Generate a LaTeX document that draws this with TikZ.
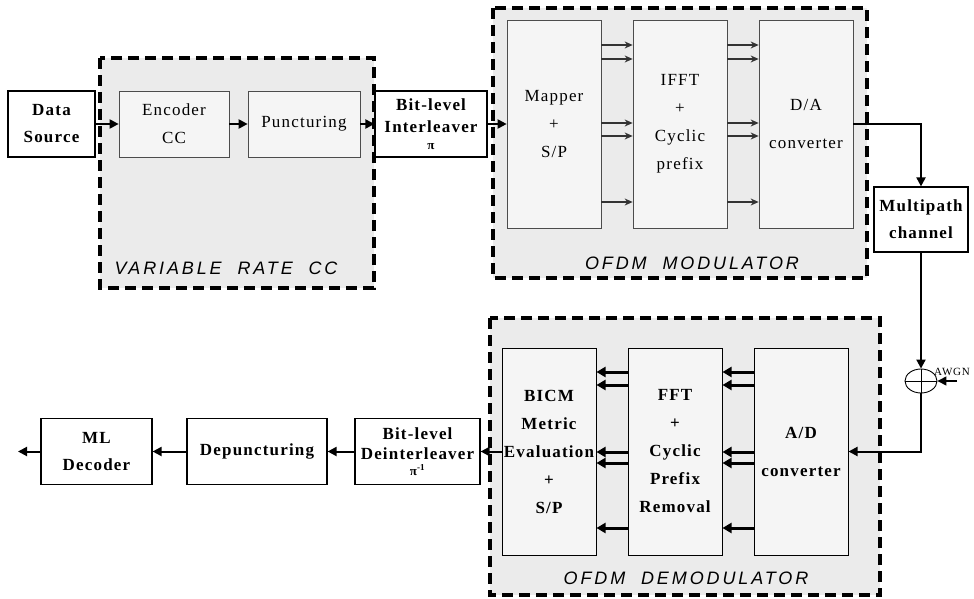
\documentclass[tikz,border=0pt]{standalone}
\usepackage{fontspec}
\setmainfont{Liberation Serif}[LetterSpace=7]
\newfontfamily\labfont{Liberation Sans}[LetterSpace=16]
\newfontfamily\pifont{Liberation Serif}
\usetikzlibrary{arrows.meta,calc,shapes.geometric}

\tikzset{
 blk/.style={draw, line width=1.2pt, fill=white, align=center, font=\fontsize{17}{27}\selectfont\bfseries, inner sep=0pt},
 inblk/.style={draw=black!70, line width=0.7pt, fill=black!4, align=center, font=\fontsize{17}{28}\selectfont, inner sep=0pt},
 demblk/.style={draw, line width=1pt, fill=black!4, align=center, font=\fontsize{17}{28}\selectfont\bfseries, inner sep=0pt},
 grp/.style={draw, line width=3.5pt, dash pattern=on 11pt off 6pt, fill=black!8},
 grplab/.style={font=\labfont\itshape\fontsize{18}{20}\selectfont, inner sep=0pt},
 conn/.style={line width=2pt, -{Triangle[length=9pt,width=9pt]}},
 parr/.style={line width=1.4pt, black!80, -{Stealth[length=8pt,width=7pt]}},
 dparr/.style={line width=3pt, -{Triangle[length=9pt,width=10pt]}},
}

\begin{document}
\begin{tikzpicture}[x=1pt,y=-1pt]
\useasboundingbox (0,0) rectangle (974,599);

% group frames
\draw[grp] (100,58) rectangle (374,288);
\draw[grp] (493,8) rectangle (867,278);
\draw[grp] (490,318) rectangle (880,595);

% top row
\node[blk, minimum width=87pt, minimum height=66pt] (ds) at (51.5,124) {Data\\Source};
\node[inblk, minimum width=110pt, minimum height=66pt] (enc) at (174,124) {Encoder\\CC};
\node[inblk, minimum width=112pt, minimum height=66pt] (pun) at (304,124) {Puncturing};
\node[blk, minimum width=112pt, minimum height=66pt, font=\fontsize{17}{22}\selectfont\bfseries] (il) at (431,124) {Bit-level\\Interleaver\\[-5pt]{\pifont\fontsize{13}{13}\selectfont\bfseries π}};

\node[inblk, minimum width=94pt, minimum height=208pt] (map) at (554,124) {Mapper\\+\\S/P};
\node[inblk, minimum width=94pt, minimum height=208pt] (ifft) at (680,124) {IFFT\\+\\Cyclic\\prefix};
\node[inblk, minimum width=94pt, minimum height=208pt] (da) at (806,124) {D/A\\[10pt]converter};

\node[blk, minimum width=94pt, minimum height=65pt] (mp) at (921,219.5) {Multipath\\channel};

\node[draw, ellipse, line width=0.9pt, minimum width=32pt, minimum height=24pt, inner sep=0pt] (sum) at (921,381) {};
\draw[line width=0.9pt] (sum.north) -- (sum.south) (sum.west) -- (sum.east);
\node[anchor=west, font=\fontsize{11}{11}\selectfont, inner sep=0pt] (awl) at (934,372) {AWGN};
\coordinate (nin) at (957,381);

% demodulator
\node[demblk, minimum width=94pt, minimum height=207pt] (bicm) at (549,451.5) {BICM\\Metric\\Evaluation\\+\\S/P};
\node[demblk, minimum width=94pt, minimum height=207pt] (fft) at (675,451.5) {FFT\\+\\Cyclic\\Prefix\\Removal};
\node[demblk, minimum width=94pt, minimum height=207pt] (ad) at (801,451.5) {A/D\\[10pt]converter};

% bottom row
\node[blk, minimum width=125pt, minimum height=66pt, font=\fontsize{17}{20}\selectfont\bfseries] (dil) at (417.5,451.5) {Bit-level\\Deinterleaver\\[-4pt]{\pifont\fontsize{13}{13}\selectfont\bfseries π\textsuperscript{-1}}};
\node[blk, minimum width=140pt, minimum height=66pt] (dep) at (257,451.5) {Depuncturing};
\node[blk, minimum width=111pt, minimum height=66pt] (ml) at (96.5,451.5) {ML\\Decoder};
\coordinate (out) at (18,451.5);

% group labels
\node[grplab] (l1) at (226,268) {VARIABLE\ \ RATE\ \ CC};
\node[grplab] (l2) at (692,263) {OFDM\ \ MODULATOR};
\node[grplab] (l3) at (686,578) {OFDM\ \ DEMODULATOR};

% connectors
\draw[conn] (ds.east) -- (enc.west);
\draw[conn] (enc.east) -- (pun.west);
\draw[conn] (pun.east) -- (il.west);
\draw[conn] (il.east) -- (map.west);
\foreach \y in {45,59,123,136,202}{
  \draw[parr] ($(map.east)+(0,\y-124)$) -- ($(ifft.west)+(0,\y-124)$);
  \draw[parr] ($(ifft.east)+(0,\y-124)$) -- ($(da.west)+(0,\y-124)$);
}
\draw[conn] (da.east) -| (mp.north);
\draw[conn] (mp.south) -- (sum.north);
\draw[conn, line width=1.5pt] (nin) -- (sum.east);
\draw[conn] (sum.south) |- (ad.east);
\foreach \y in {372,385,452,463,528}{
  \draw[dparr] ($(ad.west)+(0,\y-451.5)$) -- ($(fft.east)+(0,\y-451.5)$);
  \draw[dparr] ($(fft.west)+(0,\y-451.5)$) -- ($(bicm.east)+(0,\y-451.5)$);
}
\draw[conn] (bicm.west) -- (dil.east);
\draw[conn] (dil.west) -- (dep.east);
\draw[conn] (dep.west) -- (ml.east);
\draw[conn] (ml.west) -- (out);
\end{tikzpicture}
\end{document}
